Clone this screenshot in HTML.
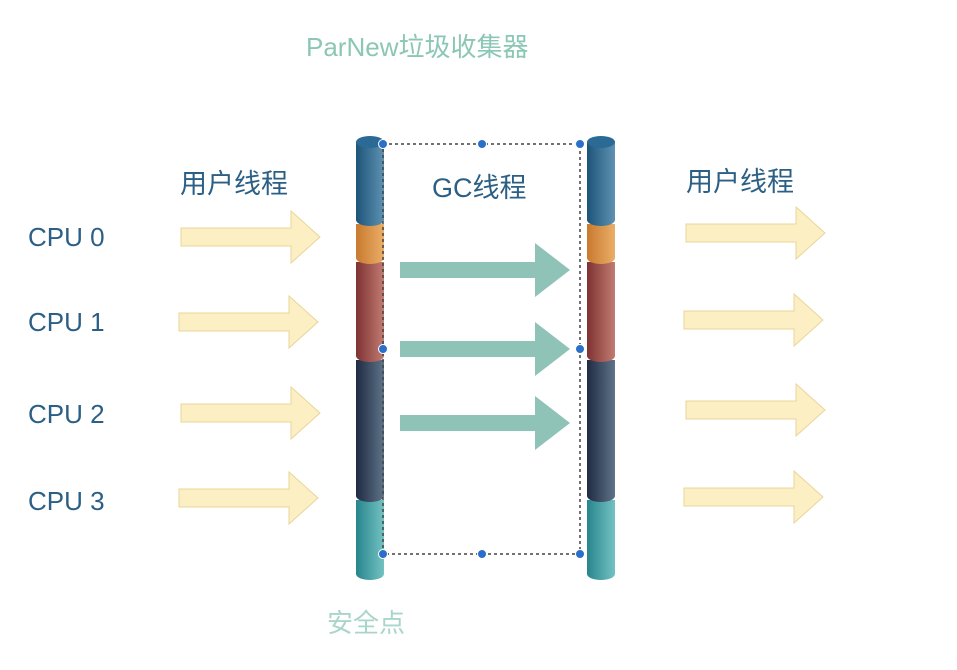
<!DOCTYPE html>
<html><head><meta charset="utf-8"><style>
html,body{margin:0;padding:0;background:#fff;width:957px;height:670px;overflow:hidden}
svg text{font-family:"Liberation Sans","Noto Sans CJK SC",sans-serif}
</style></head><body>
<svg width="957" height="670" viewBox="0 0 957 670" xmlns="http://www.w3.org/2000/svg">
<defs>
<linearGradient id="gb" x1="0" x2="1"><stop offset="0" stop-color="#1c5478"/><stop offset="1" stop-color="#5f92b2"/></linearGradient>
<linearGradient id="go" x1="0" x2="1"><stop offset="0" stop-color="#c97a2e"/><stop offset="1" stop-color="#eaae68"/></linearGradient>
<linearGradient id="gr" x1="0" x2="1"><stop offset="0" stop-color="#7e3232"/><stop offset="1" stop-color="#c27c72"/></linearGradient>
<linearGradient id="gd" x1="0" x2="1"><stop offset="0" stop-color="#1f2b42"/><stop offset="1" stop-color="#5f7489"/></linearGradient>
<linearGradient id="gt" x1="0" x2="1"><stop offset="0" stop-color="#27858c"/><stop offset="1" stop-color="#74c2c2"/></linearGradient>
<g id="pillar">
  <rect x="0" y="500" width="28" height="74" fill="url(#gt)"/><ellipse cx="14" cy="574" rx="14" ry="6" fill="url(#gt)"/>
  <rect x="0" y="360" width="28" height="136" fill="url(#gd)"/><ellipse cx="14" cy="496" rx="14" ry="6" fill="url(#gd)"/>
  <rect x="0" y="262" width="28" height="94" fill="url(#gr)"/><ellipse cx="14" cy="356" rx="14" ry="6" fill="url(#gr)"/>
  <rect x="0" y="224" width="28" height="34" fill="url(#go)"/><ellipse cx="14" cy="258" rx="14" ry="6" fill="url(#go)"/>
  <rect x="0" y="142" width="28" height="78" fill="url(#gb)"/><ellipse cx="14" cy="220" rx="14" ry="6" fill="url(#gb)"/>
  <ellipse cx="14" cy="142" rx="14" ry="6" fill="#2a6a94"/>
</g>
<g id="ya"><polygon points="0,-9 110,-9 110,-26 139,0 110,26 110,9 0,9" fill="#fdefc4" stroke="#e8d598" stroke-width="1"/></g>
<g id="ga"><polygon points="0,-8 135,-8 135,-27 170,0 135,27 135,8 0,8" fill="#8fc3b7"/></g>
</defs>

<text x="306" y="56" font-size="26" fill="#8cc7b6">ParNew垃圾收集器</text>
<text x="180" y="193" font-size="27" fill="#2c5f85">用户线程</text>
<text x="686" y="191" font-size="27" fill="#2c5f85">用户线程</text>
<text x="432" y="197" font-size="27" fill="#2c5f85">GC线程</text>
<text x="327" y="632" font-size="26" fill="#a9d5ca">安全点</text>

<g font-size="26" fill="#2c5f85">
<text x="28" y="246">CPU 0</text>
<text x="28" y="331">CPU 1</text>
<text x="28" y="423">CPU 2</text>
<text x="28" y="510">CPU 3</text>
</g>

<use href="#ya" transform="translate(181,237)"/>
<use href="#ya" transform="translate(179,322)"/>
<use href="#ya" transform="translate(181,413)"/>
<use href="#ya" transform="translate(179,498)"/>
<use href="#ya" transform="translate(686,233)"/>
<use href="#ya" transform="translate(684,320)"/>
<use href="#ya" transform="translate(686,410)"/>
<use href="#ya" transform="translate(684,497)"/>

<use href="#pillar" transform="translate(356,0)"/>
<use href="#pillar" transform="translate(587,0)"/>

<rect x="383" y="144" width="197" height="410" fill="none" stroke="#444" stroke-width="1.5" stroke-dasharray="3,3"/>
<g fill="#2a6fc9" stroke="#fff" stroke-width="1">
<circle cx="383" cy="144" r="4.5"/><circle cx="482" cy="144" r="4.5"/><circle cx="580" cy="144" r="4.5"/>
<circle cx="383" cy="349" r="4.5"/><circle cx="580" cy="349" r="4.5"/>
<circle cx="383" cy="554" r="4.5"/><circle cx="482" cy="554" r="4.5"/><circle cx="580" cy="554" r="4.5"/>
</g>

<use href="#ga" transform="translate(400,270)"/>
<use href="#ga" transform="translate(400,349)"/>
<use href="#ga" transform="translate(400,423)"/>
</svg>
</body></html>
